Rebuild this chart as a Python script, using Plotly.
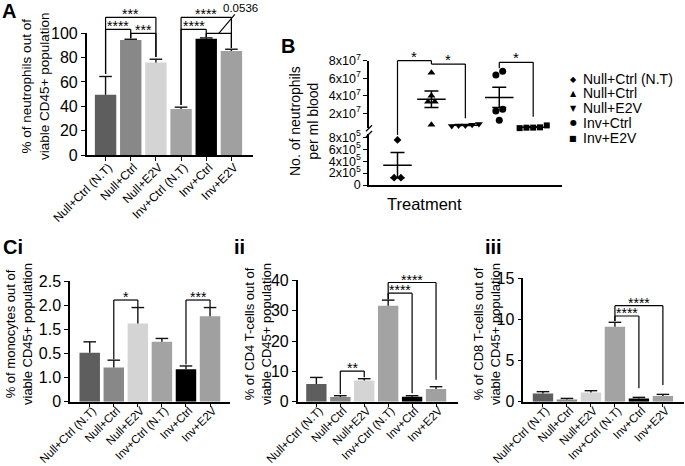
import numpy as np
import plotly.graph_objects as go

W, H = 685, 466
FONT = "Arial, 'Liberation Sans', sans-serif"

# ---------------- data ----------------
categories = ["Null+Ctrl (N.T)", "Null+Ctrl", "Null+E2V", "Inv+Ctrl (N.T)", "Inv+Ctrl", "Inv+E2V"]
bar_colors = ["#5e5e5e", "#888888", "#d4d4d4", "#a3a3a3", "#000000", "#a0a0a0"]

# A: % neutrophils
neut_mean = [49.5, 94.5, 76.0, 37.7, 95.6, 85.5]
neut_sem = [15.0, 0.6, 2.7, 1.6, 0.6, 1.4]
neut_ticks = [0, 20, 40, 60, 80, 100]

# Ci: % monocytes (tick labels as printed in the original)
mono_mean = [1.015, 0.71, 1.62, 1.24, 0.67, 1.77]
mono_sem = [0.225, 0.15, 0.33, 0.07, 0.07, 0.18]
mono_ticks = [0, 0.5, 1.0, 1.5, 2.0, 2.5]
mono_ticktext = ["0", "1.0", "0.5", "1.5", "2.0", "2.5"]

# ii: % CD4 T-cells
cd4_mean = [5.8, 1.54, 7.03, 31.6, 1.65, 4.18]
cd4_sem = [2.2, 0.44, 0.55, 1.9, 0.33, 0.77]
cd4_ticks = [0, 10, 20, 30, 40]

# iii: % CD8 T-cells
cd8_mean = [1.01, 0.28, 1.13, 9.12, 0.40, 0.69]
cd8_sem = [0.21, 0.12, 0.21, 0.53, 0.13, 0.20]
cd8_ticks = [0, 5, 10, 15]

# B: neutrophils per ml blood (individual animals)
b_groups = ["Null+Ctrl (N.T)", "Null+Ctrl", "Null+E2V", "Inv+Ctrl", "Inv+E2V"]
b_symbols = ["diamond", "triangle-up", "triangle-down", "circle", "square"]
b_legend_glyphs = ["\u25C6", "\u25B2", "\u25BC", "\u25CF", "\u25A0"]
b_nt = [7.55e5, 1.22e5, 1.22e5]
b_null_ctrl = [6.63e7, 4.0e7, 3.33e7, 3.33e7, 0.70e7]
b_null_e2v = [0.78e7, 0.60e7, 0.55e7, 0.62e7, 0.70e7]
b_inv_ctrl = [6.37e7, 6.79e7, 2.46e7, 2.26e7, 1.20e7]
b_inv_e2v = [0.36e7, 0.31e7, 0.37e7, 0.62e7, 0.40e7]
b_low_ticks = [0, 2e5, 4e5, 6e5, 8e5]
b_low_ticktext = ["0", "2x10<sup>5</sup>", "4x10<sup>5</sup>", "6x10<sup>5</sup>", "8x10<sup>5</sup>"]
b_high_ticks = [2e7, 4e7, 6e7, 8e7]
b_high_ticktext = ["2x10<sup>7</sup>", "4x10<sup>7</sup>", "6x10<sup>7</sup>", "8x10<sup>7</sup>"]

# significance brackets: (label, i, j, level, leg bottom i, leg bottom j)
neut_brackets = [("***", 0, 2, 113.1, 66.5, 80.5), ("****", 0, 1, 103.3, 66.5, 96.0),
                 ("***", 1, 2, 100.0, 96.0, 80.5), ("****", 3, 5, 113.1, 41.0, 88.0),
                 ("****", 3, 4, 103.3, 41.0, 97.0), ("", 4, 5, 100.0, 97.0, 88.0)]
mono_brackets = [("*", 1, 2, 2.106, 0.88, 1.96), ("***", 4, 5, 2.106, 0.77, 1.96)]
cd4_brackets = [("**", 1, 2, 10.1, 2.5, 8.05), ("****", 3, 5, 39.3, 33.8, 7.2),
                ("****", 3, 4, 35.8, 33.8, 2.8)]
cd8_brackets = [("****", 3, 5, 11.67, 9.8, 2.03), ("****", 3, 4, 10.42, 9.8, 1.62)]

# ---------------- helpers ----------------
def xp(px):
    return px / W


def yp(py):
    return 1 - py / H


fig = go.Figure()
layout = {}
BLACK = "#000000"


def axis_names(idx):
    s = "" if idx == 1 else str(idx)
    return "x" + s, "y" + s, "xaxis" + s, "yaxis" + s


def bar_panel(idx, means, sems, xr, xdom, ydom, yr, tickvals, ticktext=None, xfont=11.5, standoff=-8):
    xa, ya, xn, yn = axis_names(idx)
    pos = np.arange(len(categories))
    means = np.array(means)
    sems = np.array(sems)
    fig.add_trace(go.Bar(x=pos, y=means, width=0.85, marker=dict(color=bar_colors, line=dict(width=0)),
                         xaxis=xa, yaxis=ya, hoverinfo="skip"))
    # upper SEM whisker with cap
    fig.add_trace(go.Scatter(x=pos, y=means + sems, mode="markers", xaxis=xa, yaxis=ya, cliponaxis=False,
                             marker=dict(symbol="line-ew-open", size=9, color="#111111",
                                         line=dict(width=1.4, color="#111111")),
                             error_y=dict(type="data", symmetric=False, array=np.zeros(len(pos)),
                                          arrayminus=sems, width=0, thickness=1.4, color="#111111"),
                             hoverinfo="skip"))
    layout[xn] = dict(domain=[xp(xdom[0]), xp(xdom[1])], range=xr, anchor=ya, tickmode="array",
                      tickvals=pos, ticktext=categories, tickangle=-45, ticks="outside", ticklen=4,
                      tickwidth=1.4, tickcolor=BLACK, showline=True, linewidth=1.5, linecolor=BLACK,
                      showgrid=False, zeroline=False, automargin=False,
                      ticklabelstandoff=standoff, ticklabelshift=3,
                      tickfont=dict(size=xfont, color=BLACK, family=FONT))
    layout[yn] = dict(domain=[yp(ydom[1]), yp(ydom[0])], range=yr, anchor=xa, tickmode="array",
                      tickvals=tickvals, ticktext=ticktext if ticktext else [str(t) for t in tickvals],
                      ticks="outside", ticklen=4, tickwidth=1.4, tickcolor=BLACK, showline=True,
                      linewidth=1.5, linecolor=BLACK, showgrid=False, zeroline=False, automargin=False,
                      tickfont=dict(size=16, color=BLACK, family=FONT))


def brackets(idx, blist, yr, star_size=14):
    xa, ya, _, _ = axis_names(idx)
    yref = ya + " domain"
    f = lambda v: (v - yr[0]) / (yr[1] - yr[0])
    for label, i, j, lev, bi, bj in blist:
        for x0, y0, x1, y1 in [(i, bi, i, lev), (i, lev, j, lev), (j, lev, j, bj)]:
            fig.add_shape(type="line", xref=xa, yref=yref, x0=x0, x1=x1, y0=f(y0), y1=f(y1),
                          line=dict(color=BLACK, width=1.2))
        if label:
            fig.add_annotation(x=(i + j) / 2, y=f(lev), xref=xa, yref=yref, text=label, showarrow=False,
                               yanchor="bottom", yshift=-7, font=dict(size=star_size, color=BLACK, family=FONT))


# ---------------- panel A ----------------
A_YR = [0, 100]
bar_panel(1, neut_mean, neut_sem, [-0.75, 5.87], (86.7, 253.3), (33.3, 155), A_YR, neut_ticks,
          xfont=12, standoff=-5)
brackets(1, neut_brackets, A_YR)
fig.add_annotation(x=4.5, y=1.0, xref="x", yref="y domain", text="0.0536", showarrow=True, arrowhead=0,
                   arrowwidth=1.1, arrowcolor=BLACK, standoff=0, ax=21.5, ay=-25.5, borderpad=0,
                   font=dict(size=11.5, color=BLACK, family=FONT))

# ---------------- panels C ----------------
C_YR1 = [0, 2.5]
bar_panel(2, mono_mean, mono_sem, [-0.82, 5.83], (70, 230), (281, 401.7), C_YR1, mono_ticks, mono_ticktext)
brackets(2, mono_brackets, C_YR1)
C_YR2 = [0, 40]
bar_panel(3, cd4_mean, cd4_sem, [-0.78, 5.93], (297.7, 458.3), (280.4, 401.7), C_YR2, cd4_ticks)
brackets(3, cd4_brackets, C_YR2)
C_YR3 = [0, 15]
bar_panel(4, cd8_mean, cd8_sem, [-0.82, 5.88], (523.3, 684), (278.3, 401.7), C_YR3, cd8_ticks)
brackets(4, cd8_brackets, C_YR3)

# ---------------- panel B (broken y axis) ----------------
B_XDOM = (369, 561.7)
B_XR = [-0.84, 4.84]
B_LOW_DOM = (134, 185)
B_LOW_R = [0, 8.55e5]
B_HIGH_DOM = (60.7, 128.3)
B_HIGH_R = [2.9e6, 8e7]

layout["xaxis5"] = dict(domain=[xp(B_XDOM[0]), xp(B_XDOM[1])], range=B_XR, anchor="y5", showline=True,
                        linewidth=1.5, linecolor=BLACK, ticks="", showticklabels=False, showgrid=False,
                        zeroline=False, automargin=False)
common_b = dict(anchor="x5", tickmode="array", ticks="outside", ticklen=4, tickwidth=1.4, tickcolor=BLACK,
                showline=True, linewidth=1.5, linecolor=BLACK, showgrid=False, zeroline=False,
                automargin=False, tickfont=dict(size=12.5, color=BLACK, family=FONT))
layout["yaxis5"] = dict(domain=[yp(B_LOW_DOM[1]), yp(B_LOW_DOM[0])], range=B_LOW_R,
                        tickvals=b_low_ticks, ticktext=b_low_ticktext, **common_b)
layout["yaxis6"] = dict(domain=[yp(B_HIGH_DOM[1]), yp(B_HIGH_DOM[0])], range=B_HIGH_R,
                        tickvals=b_high_ticks, ticktext=b_high_ticktext, **common_b)


def px_per_val(dom, r):
    return (dom[1] - dom[0]) / (r[1] - r[0])


def to_paper_b(v, low):
    dom, r = (B_LOW_DOM, B_LOW_R) if low else (B_HIGH_DOM, B_HIGH_R)
    py = dom[1] - (v - r[0]) * px_per_val(dom, r)
    return yp(py)


def swarm(vals, ppv, thresh_px=5.5, step=0.2):
    vals = np.asarray(vals, dtype=float)
    order = np.argsort(vals, kind="stable")
    offs = np.zeros(len(vals))
    clusters, cur = [], [order[0]]
    for a, b in zip(order[:-1], order[1:]):
        if (vals[b] - vals[a]) * ppv < thresh_px:
            cur.append(b)
        else:
            clusters.append(cur)
            cur = [b]
    clusters.append(cur)
    for c in clusters:
        n = len(c)
        for r, k in enumerate(c):
            offs[k] = (r - (n - 1) / 2) * step
    return offs


b_data = [b_nt, b_null_ctrl, b_null_e2v, b_inv_ctrl, b_inv_e2v]
b_sizes = [6, 7, 7, 7, 6]
for k, vals in enumerate(b_data):
    low = (k == 0)
    ya = "y5" if low else "y6"
    ppv = px_per_val(B_LOW_DOM, B_LOW_R) if low else px_per_val(B_HIGH_DOM, B_HIGH_R)
    offs = swarm(vals, ppv)
    fig.add_trace(go.Scatter(x=k + offs, y=vals, mode="markers", xaxis="x5", yaxis=ya, cliponaxis=False,
                             marker=dict(symbol=b_symbols[k], size=b_sizes[k], color=BLACK, line=dict(width=0)),
                             name=b_groups[k], hoverinfo="skip"))
    arr = np.asarray(vals)
    mean = arr.mean()
    sem = arr.std(ddof=1) / np.sqrt(len(arr))
    fig.add_trace(go.Scatter(x=[k], y=[mean], mode="markers", xaxis="x5", yaxis=ya, cliponaxis=False,
                             marker=dict(size=1, color="rgba(0,0,0,0)"),
                             error_y=dict(type="data", array=[sem], color=BLACK, thickness=1.5, width=7),
                             error_x=dict(type="constant", value=0.42, color=BLACK, thickness=1.5, width=0),
                             hoverinfo="skip"))

# B brackets: (label, i, j, level, (value, low?) bottom i, (value, low?) bottom j)
b_brackets = [("*", 0, 1, 8.0e7, (8.39e5, True), (7.62e7, False)),
              ("*", 1, 2, 7.62e7, (7.62e7, False), (1.43e7, False)),
              ("*", 3, 4, 7.82e7, (7.13e7, False), (1.61e7, False))]
for label, i, j, lev, bi, bj in b_brackets:
    yl = to_paper_b(lev, False)
    for x0, y0, x1, y1 in [(i, to_paper_b(*bi), i, yl), (i, yl, j, yl), (j, yl, j, to_paper_b(*bj))]:
        fig.add_shape(type="line", xref="x5", yref="paper", x0=x0, x1=x1, y0=y0, y1=y1,
                      line=dict(color=BLACK, width=1.2))
    fig.add_annotation(x=(i + j) / 2, y=yl, xref="x5", yref="paper", text=label, showarrow=False,
                       yanchor="bottom", yshift=-6, font=dict(size=15, color=BLACK, family=FONT))

# axis break marks
for py in (B_HIGH_DOM[1], B_LOW_DOM[0]):
    fig.add_shape(type="line", xref="paper", yref="paper", x0=xp(B_XDOM[0] - 3), y0=yp(py + 3),
                  x1=xp(B_XDOM[0] + 3), y1=yp(py - 3), line=dict(color=BLACK, width=1.3))

# B legend
legend_rows = [79.3, 93.3, 108.3, 122.7, 138.3]
for k, g in enumerate(b_groups):
    fig.add_annotation(x=xp(573.3), y=yp(legend_rows[k]), xref="paper", yref="paper", text=b_legend_glyphs[k],
                       showarrow=False, xanchor="center", yanchor="middle",
                       font=dict(size=8, color=BLACK, family="DejaVu Sans"))
    fig.add_annotation(x=xp(581), y=yp(legend_rows[k]), xref="paper", yref="paper", text=g,
                       showarrow=False, xanchor="left", yanchor="middle",
                       font=dict(size=14, color=BLACK, family=FONT))

fig.add_annotation(x=xp(464), y=yp(204), xref="paper", yref="paper", text="Treatment", showarrow=False,
                   font=dict(size=16.5, color=BLACK, family=FONT))

# y-axis titles
ytitles = [("% of neutrophils out of<br>viable CD45+ population", 35, 87, 13.5),
           ("No. of neutrophils<br>per ml blood", 304, 121, 14),
           ("% of monocytes out of<br>viable CD45+ population", 19, 334, 13),
           ("% of CD4 T-cells out of<br>viable CD45+ population", 258, 334, 13),
           ("% of CD8 T-cells out of<br>viable CD45+ population", 487, 334, 13)]
for txt, cx, cy, fs in ytitles:
    fig.add_annotation(x=xp(cx), y=yp(cy), xref="paper", yref="paper", text=txt, showarrow=False,
                       textangle=-90, xanchor="center", yanchor="middle",
                       font=dict(size=fs, color=BLACK, family=FONT))

# panel labels
for txt, lx, cy in [("A", 0, 11), ("B", 279, 46), ("Ci", 1, 247), ("ii", 232, 247), ("iii", 483, 247)]:
    fig.add_annotation(x=xp(lx), y=yp(cy), xref="paper", yref="paper", text="<b>" + txt + "</b>",
                       showarrow=False, xanchor="left", yanchor="middle",
                       font=dict(size=20, color=BLACK, family=FONT))

fig.update_layout(width=W, height=H, margin=dict(l=0, r=0, t=0, b=0, pad=0, autoexpand=False),
                  showlegend=False, plot_bgcolor="white", paper_bgcolor="white",
                  font=dict(family=FONT, color=BLACK), bargap=0.15, **layout)
fig.write_html("out.html", config={"displayModeBar": False},
               post_script="document.body.style.margin='0px';document.body.style.padding='0px';"
                           "document.body.style.overflow='hidden';")
